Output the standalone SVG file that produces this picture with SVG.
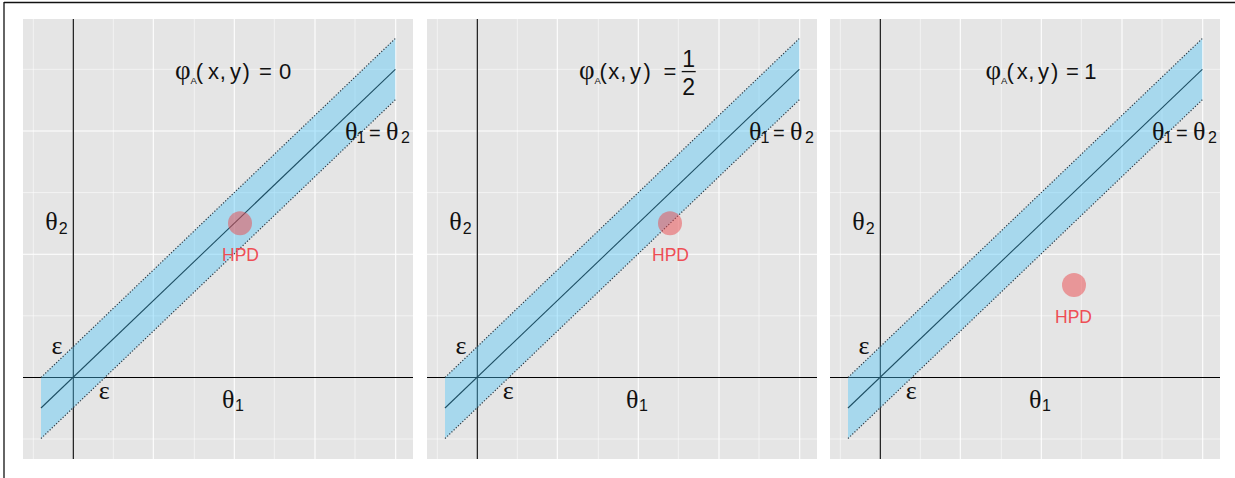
<svg xmlns="http://www.w3.org/2000/svg" width="1235" height="478" viewBox="0 0 1235 478">
<style>
.bg{fill:#E5E5E5}
.gmaj{stroke:#FFFFFF;stroke-width:1.1}
.gmin{stroke:#FFFFFF;stroke-width:0.55}
.band{fill:#4CC5FB;fill-opacity:0.4}
.edge{stroke:#2E3A44;stroke-width:1.2;stroke-dasharray:1.2 1.8;fill:none}
.ax{stroke:#000;stroke-width:1.1}
.gr{font-family:"Liberation Serif","DejaVu Serif",serif;fill:#111}
.sa{font-family:"Liberation Sans",Arial,sans-serif;fill:#111}
.hpd{fill:#EB474B;fill-opacity:0.5}
.hpdt{font-family:"Liberation Sans",Arial,sans-serif;font-size:17.5px;fill:#EE4E55;text-anchor:middle}
.frame{stroke:#111;stroke-width:1.3}
</style>
<defs>
<g id="grid">
<rect class="bg" x="23" y="19" width="390" height="440"/>
<g class="gmin">
<line x1="33.3" y1="19" x2="33.3" y2="459"/>
<line x1="113.3" y1="19" x2="113.3" y2="459"/>
<line x1="194.3" y1="19" x2="194.3" y2="459"/>
<line x1="274.3" y1="19" x2="274.3" y2="459"/>
<line x1="355" y1="19" x2="355" y2="459"/>
<line x1="23" y1="69.3" x2="413" y2="69.3"/>
<line x1="23" y1="192.6" x2="413" y2="192.6"/>
<line x1="23" y1="315.8" x2="413" y2="315.8"/>
<line x1="23" y1="439" x2="413" y2="439"/>
</g>
<g class="gmaj">
<line x1="73.3" y1="19" x2="73.3" y2="459"/>
<line x1="153.3" y1="19" x2="153.3" y2="459"/>
<line x1="234.3" y1="19" x2="234.3" y2="459"/>
<line x1="315" y1="19" x2="315" y2="459"/>
<line x1="395.7" y1="19" x2="395.7" y2="459"/>
<line x1="23" y1="131" x2="413" y2="131"/>
<line x1="23" y1="254.2" x2="413" y2="254.2"/>
<line x1="23" y1="377.5" x2="413" y2="377.5"/>
</g>
<g class="ax">
<line x1="73.3" y1="19" x2="73.3" y2="459"/>
<line x1="23" y1="377.5" x2="413" y2="377.5"/>
<line x1="41" y1="408" x2="395.3" y2="69.3"/>
</g>
<polygon class="band" points="41,377.5 395.3,38.5 395.3,99.8 41,438.5"/>
<line class="edge" x1="41" y1="377.5" x2="395.3" y2="38.5"/>
<line class="edge" x1="41" y1="438.5" x2="395.3" y2="99.8"/>
</g>
</defs>

<g id="frame">
<line class="frame" x1="4" y1="2.5" x2="1235" y2="2.5"/>
<line class="frame" x1="4" y1="2" x2="4" y2="478"/>
</g>

<g id="panel1">
<use href="#grid"/>
<circle class="hpd" cx="240" cy="223.3" r="12"/>
<text class="hpdt" x="240.5" y="261">HPD</text>
<text class="sa" style="font-size:22px" x="175" y="78.5"><tspan class="gr" style="font-size:27px">φ</tspan><tspan style="font-size:9.5px" dy="5.5">A</tspan><tspan x="195.8 208 219.7 224 230 242.4" y="78.5">(x, y)</tspan><tspan x="259">=</tspan><tspan x="279">0</tspan></text>
<text class="gr" style="font-size:26px" x="345" y="140">θ<tspan class="sa" style="font-size:16px" x="356.6" y="143">1</tspan><tspan class="sa" style="font-size:20px" x="369" y="140">=</tspan><tspan x="386" y="140">θ</tspan><tspan class="sa" style="font-size:16px" x="401" y="143">2</tspan></text>
<text class="gr" style="font-size:26px" x="45.3" y="230">θ<tspan class="sa" style="font-size:16px" x="58.8" y="234.3">2</tspan></text>
<text class="gr" style="font-size:26px" x="51.4" y="354">ε</text>
<text class="gr" style="font-size:26px" x="98.7" y="399.3">ε</text>
<text class="gr" style="font-size:26px" x="222" y="407.7">θ<tspan class="sa" style="font-size:16px" x="235" y="410.7">1</tspan></text>
</g>

<g id="panel2" transform="translate(404,0)">
<use href="#grid"/>
<circle class="hpd" cx="266" cy="223.3" r="12"/>
<text class="hpdt" x="266.5" y="261">HPD</text>
<text class="sa" style="font-size:22px" x="175" y="78.5"><tspan class="gr" style="font-size:27px">φ</tspan><tspan style="font-size:9.5px" dy="5.5">A</tspan><tspan x="195.5 204.3 216.2 220.5 226 239.4" y="78.5">(x, y)</tspan><tspan x="259.5">=</tspan></text>
<text class="sa" style="font-size:23px" x="284.7" y="66.5" text-anchor="middle">1</text>
<line x1="277.7" y1="71.6" x2="291.7" y2="71.6" stroke="#111" stroke-width="1.3"/>
<text class="sa" style="font-size:23px" x="284.7" y="95" text-anchor="middle">2</text>
<text class="gr" style="font-size:26px" x="345" y="140">θ<tspan class="sa" style="font-size:16px" x="356.6" y="143">1</tspan><tspan class="sa" style="font-size:20px" x="369" y="140">=</tspan><tspan x="386" y="140">θ</tspan><tspan class="sa" style="font-size:16px" x="401" y="143">2</tspan></text>
<text class="gr" style="font-size:26px" x="45.3" y="230">θ<tspan class="sa" style="font-size:16px" x="58.8" y="234.3">2</tspan></text>
<text class="gr" style="font-size:26px" x="51.4" y="354">ε</text>
<text class="gr" style="font-size:26px" x="98.7" y="399.3">ε</text>
<text class="gr" style="font-size:26px" x="222" y="407.7">θ<tspan class="sa" style="font-size:16px" x="235" y="410.7">1</tspan></text>
</g>

<g id="panel3" transform="translate(807,0)">
<use href="#grid"/>
<circle class="hpd" cx="267" cy="285" r="12"/>
<text class="hpdt" x="266.5" y="323.3">HPD</text>
<text class="sa" style="font-size:22px" x="178.5" y="78.5"><tspan class="gr" style="font-size:27px">φ</tspan><tspan style="font-size:9.5px" dy="5.5">A</tspan><tspan x="199.5 209.7 221.2 225.5 231 244" y="78.5">(x, y)</tspan><tspan x="259">=</tspan><tspan x="277.3">1</tspan></text>
<text class="gr" style="font-size:26px" x="345" y="140">θ<tspan class="sa" style="font-size:16px" x="356.6" y="143">1</tspan><tspan class="sa" style="font-size:20px" x="369" y="140">=</tspan><tspan x="386" y="140">θ</tspan><tspan class="sa" style="font-size:16px" x="401" y="143">2</tspan></text>
<text class="gr" style="font-size:26px" x="45.3" y="230">θ<tspan class="sa" style="font-size:16px" x="58.8" y="234.3">2</tspan></text>
<text class="gr" style="font-size:26px" x="51.4" y="354">ε</text>
<text class="gr" style="font-size:26px" x="98.7" y="399.3">ε</text>
<text class="gr" style="font-size:26px" x="222" y="407.7">θ<tspan class="sa" style="font-size:16px" x="235" y="410.7">1</tspan></text>
</g>
</svg>
